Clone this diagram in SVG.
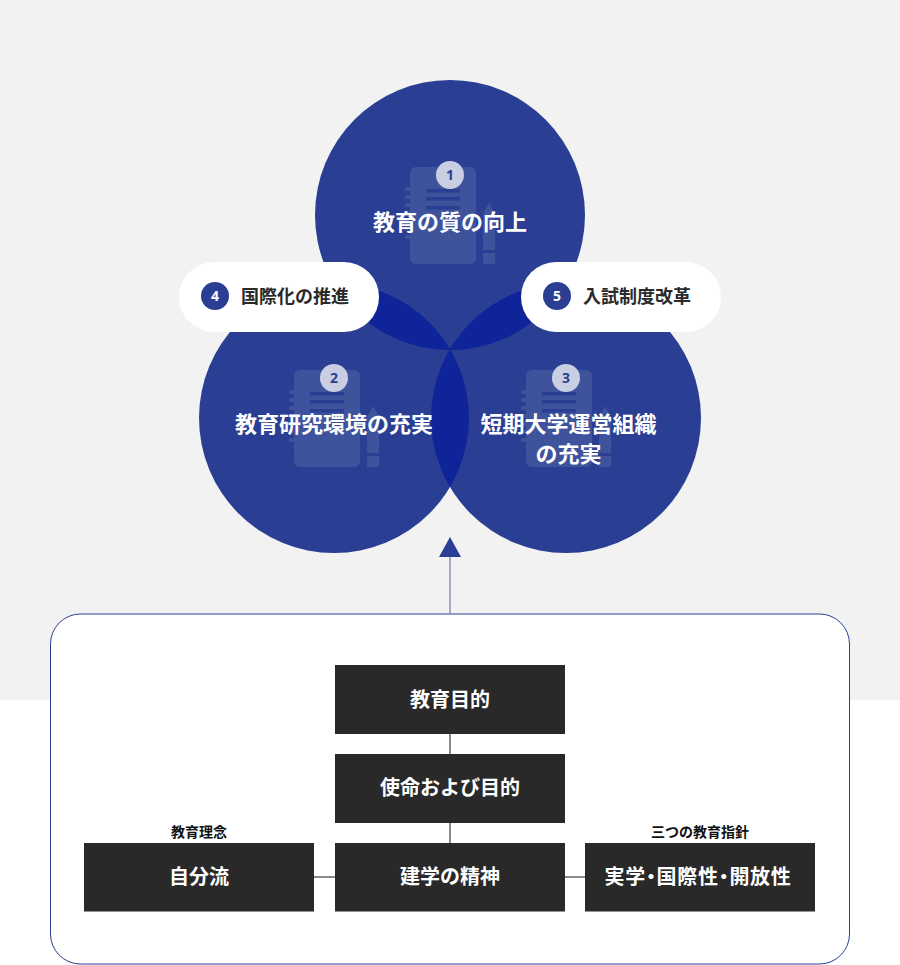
<svg xmlns="http://www.w3.org/2000/svg" width="900" height="965" viewBox="0 0 900 965">
<style>
text{font-family:"Noto Sans CJK JP","Noto Sans CJK SC",sans-serif;font-weight:700;text-anchor:middle}
.c{fill:#2a3f93}
.ov{fill:#10249a}
.t{fill:#fff;font-size:22px}
.p{fill:#2a2a2a;font-size:18px}
.bx{fill:#fff;font-size:20px}
.cap{fill:#111;font-size:14px}
.box{fill:#292929}
.num{font-size:14px;fill:#2a3f93;font-family:"Noto Sans",sans-serif}
.numw{font-size:14px;fill:#fff;font-family:"Noto Sans",sans-serif}
.ln{stroke:#8a8a8a;stroke-width:2;fill:none}
.ic{fill:#3f529c}
.icd{fill:#2a3f93}
</style>
<defs>
<clipPath id="cT"><circle cx="450" cy="215" r="135"/></clipPath>
<clipPath id="cL"><circle cx="334" cy="418" r="135"/></clipPath>
<g id="note">
<rect x="-40" y="-48" width="66" height="97" rx="6" class="ic"/>
<rect x="-45" y="-28" width="7" height="4" rx="1.500" class="ic"/>
<rect x="-45" y="-20" width="7" height="4" rx="1.500" class="ic"/>
<rect x="-45" y="-12" width="7" height="4" rx="1.500" class="ic"/>
<rect x="-45" y="-4" width="7" height="4" rx="1.500" class="ic"/>
<rect x="-45" y="4" width="7" height="4" rx="1.500" class="ic"/>
<rect x="-45" y="12" width="7" height="4" rx="1.500" class="ic"/>
<rect x="-45" y="20" width="7" height="4" rx="1.500" class="ic"/>
<rect x="-24" y="-26" width="34" height="3.500" class="icd"/>
<rect x="-24" y="-18" width="34" height="3.500" class="icd"/>
<rect x="-24" y="-9" width="34" height="3.500" class="icd"/>
<path d="M39-12L45-1V35H33V-1Z" class="ic"/>
<rect x="33" y="38" width="12" height="11" class="ic"/>
</g>
</defs>
<rect width="900" height="700" fill="#f2f2f2"/>
<g id="circle-1"><circle cx="450" cy="215" r="135" class="c"/></g>
<g id="circle-2"><circle cx="334" cy="418" r="135" class="c"/></g>
<g id="circle-3"><circle cx="566" cy="418" r="135" class="c"/></g>
<g id="overlaps">
<circle cx="334" cy="418" r="135" class="ov" clip-path="url(#cT)"/>
<circle cx="566" cy="418" r="135" class="ov" clip-path="url(#cT)"/>
<circle cx="566" cy="418" r="135" class="ov" clip-path="url(#cL)"/>
</g>
<g id="node-1">
<use href="#note" x="450" y="215"/>
<circle cx="450" cy="175" r="14" fill="#c9cee3"/>
<text x="450" y="180" class="num">1</text>
<text x="450" y="230" class="t">教育の質の向上</text>
</g>
<g id="node-2">
<use href="#note" x="334" y="418"/>
<circle cx="334" cy="378" r="14" fill="#c9cee3"/>
<text x="334" y="383" class="num">2</text>
<text x="334" y="432" class="t">教育研究環境の充実</text>
</g>
<g id="node-3">
<use href="#note" x="566" y="418"/>
<circle cx="566" cy="378" r="14" fill="#c9cee3"/>
<text x="566" y="383" class="num">3</text>
<text x="568.500" y="432" class="t">短期大学運営組織</text>
<text x="568.500" y="462" class="t">の充実</text>
</g>
<g id="node-4">
<rect x="179" y="262" width="200" height="70" rx="35" fill="#fff"/>
<circle cx="215" cy="296" r="14" fill="#2a3f93"/>
<text x="215" y="301" class="numw">4</text>
<text x="295" y="303" class="p">国際化の推進</text>
</g>
<g id="node-5">
<rect x="521" y="262" width="200" height="70" rx="35" fill="#fff"/>
<circle cx="557" cy="296" r="14" fill="#2a3f93"/>
<text x="557" y="301" class="numw">5</text>
<text x="637" y="303" class="p">入試制度改革</text>
</g>
<g id="panel"><rect x="50.500" y="614" width="799" height="350" rx="30" fill="#fff" stroke="#2a3f93" stroke-width="1"/></g>
<g id="connectors">
<line x1="450" y1="556" x2="450" y2="614" stroke="#8a95c2" stroke-width="1.500"/>
<path d="M450 537L461 557H439Z" fill="#2a3f93"/>
<line x1="450" y1="733" x2="450" y2="754" class="ln"/>
<line x1="450" y1="822" x2="450" y2="843" class="ln"/>
<line x1="314" y1="877" x2="335" y2="877" class="ln"/>
<line x1="565" y1="877" x2="585" y2="877" class="ln"/>
</g>
<g id="box-purpose"><rect x="335" y="665" width="230" height="69" class="box"/><text x="450" y="707" class="bx">教育目的</text></g>
<g id="box-mission"><rect x="335" y="754" width="230" height="69" class="box"/><text x="450" y="795" class="bx">使命および目的</text></g>
<g id="box-spirit"><rect x="335" y="843" width="230" height="68.500" class="box"/><text x="450" y="884" class="bx">建学の精神</text></g>
<g id="box-ideal"><text x="199" y="837" class="cap">教育理念</text><rect x="84" y="843" width="230" height="68.500" class="box"/><text x="199" y="884" class="bx">自分流</text></g>
<g id="box-policy"><text x="700" y="837" class="cap">三つの教育指針</text><rect x="585" y="843" width="230" height="68.500" class="box"/><text x="698" y="884" class="bx" style="font-feature-settings:'palt';letter-spacing:.7px">実学・国際性・開放性</text></g>
</svg>
